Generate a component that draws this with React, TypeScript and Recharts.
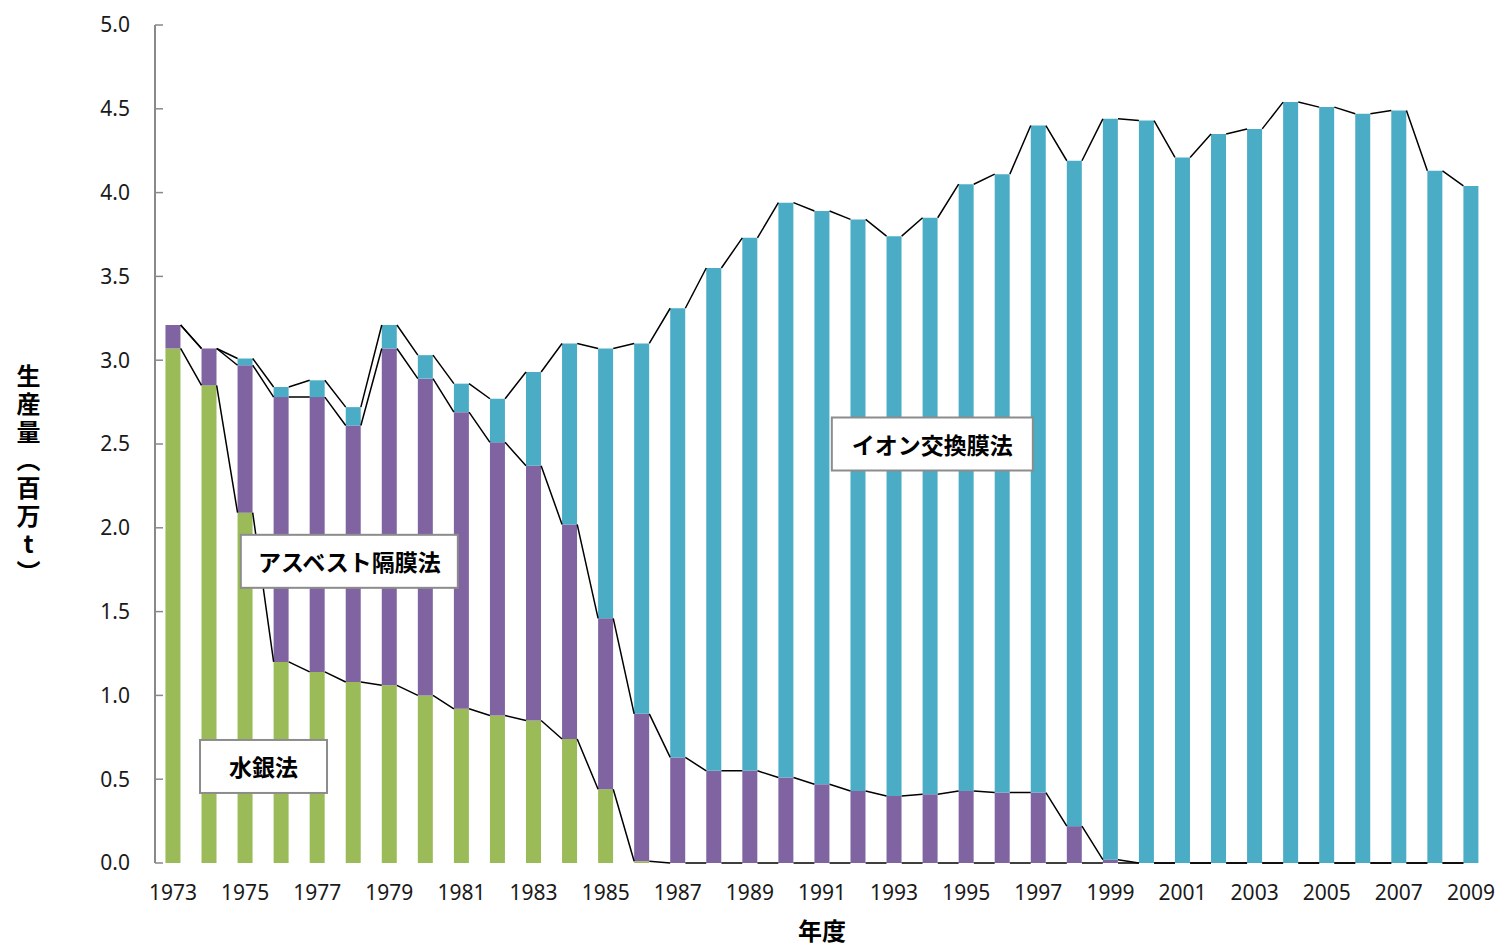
import { Bar, ComposedChart, Line, ReferenceDot, XAxis, YAxis } from 'recharts'

// 年度
const years = [
  1973, 1974, 1975, 1976, 1977, 1978, 1979, 1980, 1981, 1982,
  1983, 1984, 1985, 1986, 1987, 1988, 1989, 1990, 1991, 1992,
  1993, 1994, 1995, 1996, 1997, 1998, 1999, 2000, 2001, 2002,
  2003, 2004, 2005, 2006, 2007, 2008, 2009,
]

// 生産量（百万t）
const mercury = [
  3.07, 2.85, 2.09, 1.20, 1.14, 1.08, 1.06, 1.00, 0.92, 0.88,
  0.85, 0.74, 0.44, 0.01, 0, 0, 0, 0, 0, 0,
  0, 0, 0, 0, 0, 0, 0, 0, 0, 0,
  0, 0, 0, 0, 0, 0, 0,
]
const asbestos = [
  0.14, 0.22, 0.88, 1.58, 1.64, 1.53, 2.01, 1.89, 1.77, 1.63,
  1.52, 1.28, 1.02, 0.88, 0.63, 0.55, 0.55, 0.51, 0.47, 0.43,
  0.40, 0.41, 0.43, 0.42, 0.42, 0.22, 0.02, 0, 0, 0,
  0, 0, 0, 0, 0, 0, 0,
]
const ionExchange = [
  0, 0, 0.04, 0.06, 0.10, 0.11, 0.14, 0.14, 0.17, 0.26,
  0.56, 1.08, 1.61, 2.21, 2.68, 3.00, 3.18, 3.43, 3.42, 3.41,
  3.34, 3.44, 3.62, 3.69, 3.98, 3.97, 4.42, 4.43, 4.21, 4.35,
  4.38, 4.54, 4.51, 4.47, 4.49, 4.13, 4.04,
]

const yTicks = [0, 0.5, 1, 1.5, 2, 2.5, 3, 3.5, 4, 4.5, 5]
const labelYears = years.filter((y) => y % 2 === 1)

const COLORS = { mercury: '#9BBB59', asbestos: '#8064A2', ion: '#4BACC6' }
const AXIS = '#898989'
const FONT = '"Noto Sans", "DejaVu Sans", sans-serif'
const JP = '"Noto Sans CJK JP", sans-serif'

// bar occupies 42% of a year slot (barCategoryGap 29%), so half a bar = 0.21 year
const HALF = 0.21

const data = years.map((year, i) => ({
  year,
  mercury: mercury[i],
  asbestos: asbestos[i],
  ion: ionExchange[i],
}))

const stackTops = (i: number) => {
  const g = mercury[i]
  const p = g + asbestos[i]
  return { g, p, t: p + ionExchange[i] }
}

// series lines: from right edge of one bar to the left edge of the next
const connectors: any[] = []
years.slice(0, -1).forEach((year, i) => {
  connectors.push({ x: year + HALF, ...stackTops(i) })
  connectors.push({ x: years[i + 1] - HALF, ...stackTops(i + 1) })
  connectors.push({ x: year + 0.5, g: null, p: null, t: null })
})
const edgeTicks = [...years.map((y) => y - 0.5), years[years.length - 1] + 0.5]

function LabelBox({ cx, cy, text, w }: any) {
  return (
    <g>
      <rect x={cx - w / 2} y={cy - 26.5} width={w} height={53} fill="#fff" stroke="#8c8c8c" strokeWidth={2} />
      <text x={cx} y={cy} textAnchor="middle" dominantBaseline="central" fontSize={23} fontWeight="bold" fontFamily={JP} fill="#000">
        {text}
      </text>
    </g>
  )
}

export default function App() {
  return (
    <div style={{ position: 'relative', width: 1497, height: 947 }}>
      <style>{'html, body { margin: 0; padding: 0; overflow: hidden; }'}</style>
      <ComposedChart width={1497} height={947} data={data} margin={{ top: 25, right: 8, bottom: 0, left: 0 }} barCategoryGap="29%">
        <XAxis
          xAxisId="edge"
          dataKey="x"
          type="number"
          domain={[1972.5, 2009.5]}
          ticks={edgeTicks}
          tickFormatter={() => ''}
          height={0}
          tickSize={-6}
          axisLine={{ stroke: AXIS, strokeWidth: 2 }}
          tickLine={{ stroke: AXIS, strokeWidth: 1.5 }}
        />
        <XAxis
          xAxisId="yr"
          dataKey="year"
          type="number"
          domain={[1972.5, 2009.5]}
          ticks={years}
          interval={0}
          tickFormatter={(v) => (labelYears.includes(v) ? String(v) : '')}
          height={84}
          tickSize={0}
          tickMargin={22}
          axisLine={false}
          tickLine={false}
          tick={{ fill: '#1a1a1a', fontSize: 21, fontFamily: FONT }}
          label={{ value: '年度', position: 'insideBottom', offset: 7, fontSize: 24, fontWeight: 'bold', fontFamily: JP, fill: '#000' }}
        />
        <YAxis
          domain={[0, 5]}
          ticks={yTicks}
          width={155}
          tickSize={-8}
          tickMargin={33}
          tickFormatter={(v) => v.toFixed(1)}
          axisLine={{ stroke: AXIS, strokeWidth: 2 }}
          tickLine={{ stroke: AXIS, strokeWidth: 1.5 }}
          tick={{ fill: '#1a1a1a', fontSize: 21, fontFamily: FONT }}
        />
        <Bar xAxisId="yr" dataKey="mercury" name="水銀法" stackId="s" fill={COLORS.mercury} isAnimationActive={false} />
        <Bar xAxisId="yr" dataKey="asbestos" name="アスベスト隔膜法" stackId="s" fill={COLORS.asbestos} isAnimationActive={false} />
        <Bar xAxisId="yr" dataKey="ion" name="イオン交換膜法" stackId="s" fill={COLORS.ion} isAnimationActive={false} />
        {(['g', 'p', 't'] as const).map((k) => (
          <Line
            key={k}
            xAxisId="edge"
            data={connectors}
            dataKey={k}
            type="linear"
            stroke="#000"
            strokeWidth={1.5}
            dot={false}
            activeDot={false}
            connectNulls={false}
            isAnimationActive={false}
          />
        ))}
        <ReferenceDot xAxisId="yr" x={1975.51} y={0.576} r={0} shape={(p: any) => <LabelBox {...p} text="水銀法" w={127} />} />
        <ReferenceDot xAxisId="yr" x={1977.89} y={1.8} r={0} shape={(p: any) => <LabelBox {...p} text="アスベスト隔膜法" w={217} />} />
        <ReferenceDot xAxisId="yr" x={1994.06} y={2.5} r={0} shape={(p: any) => <LabelBox {...p} text="イオン交換膜法" w={201} />} />
      </ComposedChart>
      <div
        style={{
          position: 'absolute',
          left: 16,
          top: 364,
          writingMode: 'vertical-rl',
          textOrientation: 'upright',
          fontFamily: JP,
          fontWeight: 'bold',
          fontSize: 24,
          letterSpacing: 4,
          lineHeight: 1,
          color: '#000',
        }}
      >
        生産量（百万t）
      </div>
    </div>
  )
}
